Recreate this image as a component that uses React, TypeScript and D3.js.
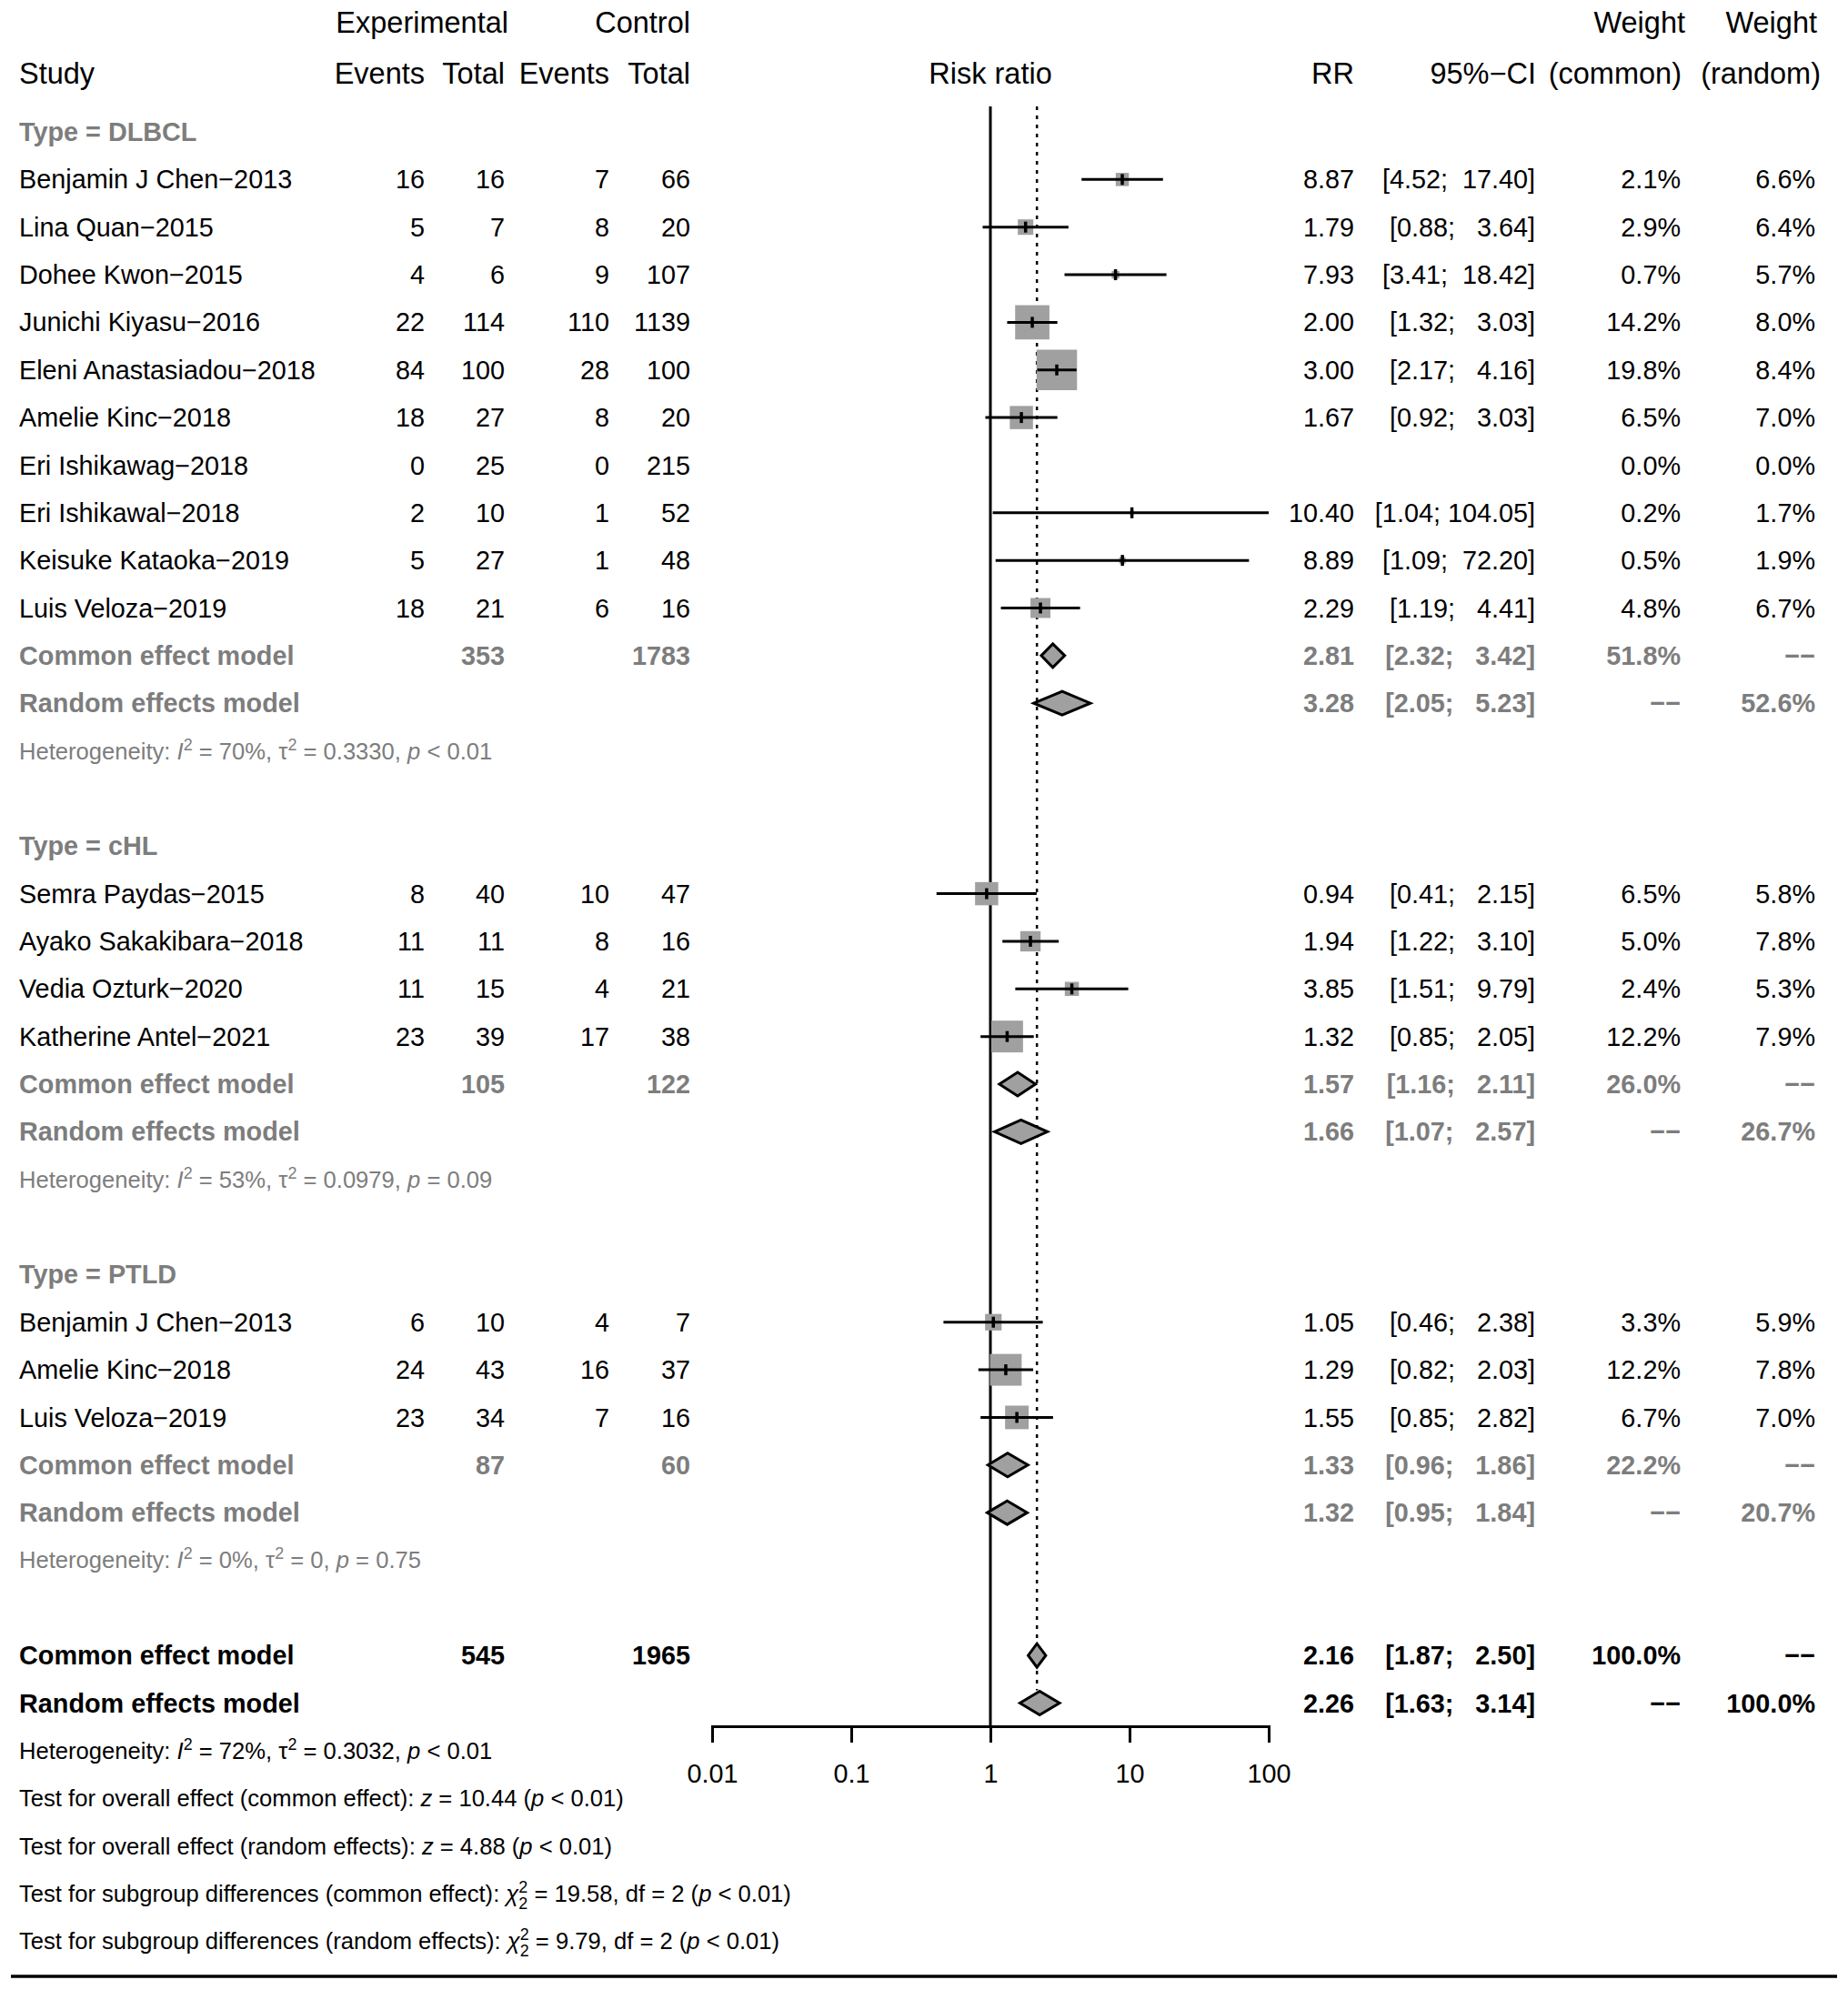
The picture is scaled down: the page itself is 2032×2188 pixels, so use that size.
import React, { useRef, useEffect } from 'react';
import * as d3 from 'd3';

// Study rows (all subgroups, in plot order)
const studyGroup = [0, 0, 0, 0, 0, 0, 0, 0, 0, 0, 1, 1, 1, 1, 2, 2, 2];
const studyNames = [
  'Benjamin J Chen−2013', 'Lina Quan−2015', 'Dohee Kwon−2015', 'Junichi Kiyasu−2016',
  'Eleni Anastasiadou−2018', 'Amelie Kinc−2018', 'Eri Ishikawag−2018', 'Eri Ishikawal−2018',
  'Keisuke Kataoka−2019', 'Luis Veloza−2019',
  'Semra Paydas−2015', 'Ayako Sakakibara−2018', 'Vedia Ozturk−2020', 'Katherine Antel−2021',
  'Benjamin J Chen−2013', 'Amelie Kinc−2018', 'Luis Veloza−2019',
];
const expEvents = [16, 5, 4, 22, 84, 18, 0, 2, 5, 18, 8, 11, 11, 23, 6, 24, 23];
const expTotal = [16, 7, 6, 114, 100, 27, 25, 10, 27, 21, 40, 11, 15, 39, 10, 43, 34];
const ctrlEvents = [7, 8, 9, 110, 28, 8, 0, 1, 1, 6, 10, 8, 4, 17, 4, 16, 7];
const ctrlTotal = [66, 20, 107, 1139, 100, 20, 215, 52, 48, 16, 47, 16, 21, 38, 7, 37, 16];
const studyRR = [8.87, 1.79, 7.93, 2.0, 3.0, 1.67, null, 10.4, 8.89, 2.29, 0.94, 1.94, 3.85, 1.32, 1.05, 1.29, 1.55];
const studyLower = [4.52, 0.88, 3.41, 1.32, 2.17, 0.92, null, 1.04, 1.09, 1.19, 0.41, 1.22, 1.51, 0.85, 0.46, 0.82, 0.85];
const studyUpper = [17.4, 3.64, 18.42, 3.03, 4.16, 3.03, null, 104.05, 72.2, 4.41, 2.15, 3.1, 9.79, 2.05, 2.38, 2.03, 2.82];
const weightCommon = [2.1, 2.9, 0.7, 14.2, 19.8, 6.5, 0.0, 0.2, 0.5, 4.8, 6.5, 5.0, 2.4, 12.2, 3.3, 12.2, 6.7];
const weightRandom = [6.6, 6.4, 5.7, 8.0, 8.4, 7.0, 0.0, 1.7, 1.9, 6.7, 5.8, 7.8, 5.3, 7.9, 5.9, 7.8, 7.0];

// Subgroup summaries
const groupNames = ['Type = DLBCL', 'Type = cHL', 'Type = PTLD'];
const groupExpTotal = [353, 105, 87];
const groupCtrlTotal = [1783, 122, 60];
const groupCommonRR = [2.81, 1.57, 1.33];
const groupCommonLower = [2.32, 1.16, 0.96];
const groupCommonUpper = [3.42, 2.11, 1.86];
const groupCommonWeight = [51.8, 26.0, 22.2];
const groupRandomRR = [3.28, 1.66, 1.32];
const groupRandomLower = [2.05, 1.07, 0.95];
const groupRandomUpper = [5.23, 2.57, 1.84];
const groupRandomWeight = [52.6, 26.7, 20.7];
const groupI2 = ['70%', '53%', '0%'];
const groupTau2 = ['0.3330', '0.0979', '0'];
const groupP = ['< 0.01', '= 0.09', '= 0.75'];

// Overall
const overallExpTotal = 545;
const overallCtrlTotal = 1965;
const overallCommon = [2.16, 1.87, 2.5];
const overallRandom = [2.26, 1.63, 3.14];
const overallHet = { i2: '72%', tau2: '0.3032', p: '< 0.01' };
const testLines = [
  { label: 'Test for overall effect (common effect): ', stat: 'z', val: ' = 10.44 (', p: ' < 0.01)' },
  { label: 'Test for overall effect (random effects): ', stat: 'z', val: ' = 4.88 (', p: ' < 0.01)' },
  { label: 'Test for subgroup differences (common effect): ', stat: 'chi', val: ' = 19.58, df = 2 (', p: ' < 0.01)' },
  { label: 'Test for subgroup differences (random effects): ', stat: 'chi', val: ' = 9.79, df = 2 (', p: ' < 0.01)' },
];
const axisTicks = [0.01, 0.1, 1, 10, 100];

const WIDTH = 2032;
const HEIGHT = 2188;
const FONT = '"Liberation Sans", Arial, Helvetica, sans-serif';
const FS = 28.8;
const FS_HEAD = 32.5;
const FS_SMALL = 25.6;
const GRAY = '#7d7d7d';
const BOX = '#a0a0a0';
const DASH = '−−';

const col = {
  study: 21, expEv: 467, expTot: 555, ctrlEv: 670, ctrlTot: 759,
  rr: 1489, ci: 1688, wc: 1848, wr: 1996,
};

// R-style padded CI text: upper bound padded to the widest value in the column
const fmtCI = (lo: number, up: number) => {
  const u = up.toFixed(2);
  return `[${lo.toFixed(2)}; ${u.padStart(6, ' ')}]`;
};
const fmtW = (w: number | null) => (w === null ? DASH : `${w.toFixed(1)}%`);

const App: React.FC = () => {
  const axisRef = useRef<SVGGElement>(null);

  const x = d3.scaleLog().domain([0.01, 100]).range([783, 1395]);
  const row = d3.scaleLinear().domain([0, 38]).range([145, 145 + 52.35 * 38]);
  const axisY = 1898;
  const boxSize = (w: number) => 10 * Math.sqrt(w);
  const clampX = (v: number) => x(Math.max(0.01, Math.min(100, v)));

  useEffect(() => {
    if (!axisRef.current) return;
    const g = d3.select(axisRef.current);
    g.selectAll('*').remove();
    g.call(
      d3.axisBottom(x)
        .tickValues(axisTicks)
        .tickFormat(d => String(d))
        .tickSize(18)
        .tickSizeOuter(18)
        .tickPadding(24)
    );
    g.select('.domain').attr('stroke', '#000').attr('stroke-width', 3);
    g.selectAll('.tick line').attr('stroke', '#000').attr('stroke-width', 3);
    g.selectAll('.tick text')
      .attr('fill', '#000')
      .style('font-size', `${FS}px`)
      .style('font-family', FONT);
  }, []);

  type Cell = { x: number; text: string; anchor?: string };
  const textRow = (k: number, cells: Cell[], color: string, bold: boolean, key: string) => (
    <g key={key} fill={color} fontWeight={bold ? 'bold' : 'normal'} fontSize={FS}>
      {cells.map((c, i) => (
        <text key={i} x={c.x} y={row(k)} dy="0.35em" textAnchor={c.anchor || 'end'} style={{ whiteSpace: 'pre' }}>
          {c.text}
        </text>
      ))}
    </g>
  );

  const hetText = (k: number, i2: string, tau2: string, p: string, color: string, key: string) => (
    <text key={key} x={col.study} y={row(k)} dy="0.35em" fontSize={FS_SMALL} fill={color} style={{ whiteSpace: 'pre' }}>
      {'Heterogeneity: '}
      <tspan fontStyle="italic">I</tspan>
      <tspan dy={-10} fontSize={FS_SMALL * 0.7}>2</tspan>
      <tspan dy={10}>{` = ${i2}, τ`}</tspan>
      <tspan dy={-10} fontSize={FS_SMALL * 0.7}>2</tspan>
      <tspan dy={10}>{` = ${tau2}, `}</tspan>
      <tspan fontStyle="italic">p</tspan>
      {` ${p}`}
    </text>
  );

  const diamond = (k: number, est: number, lo: number, up: number, key: string) => {
    const y = row(k);
    const pts = [[clampX(lo), y], [x(est), y - 13], [clampX(up), y], [x(est), y + 13]];
    return (
      <polygon key={key} points={pts.map(p => p.join(',')).join(' ')} fill={BOX} stroke="#000" strokeWidth={3} strokeLinejoin="miter" />
    );
  };

  const texts: React.ReactNode[] = [];
  const marks: React.ReactNode[] = [];

  let k = 0;
  groupNames.forEach((gName, gi) => {
    texts.push(textRow(k, [{ x: col.study, text: gName, anchor: 'start' }], GRAY, true, `gh${gi}`));
    k++;
    studyNames.forEach((name, si) => {
      if (studyGroup[si] !== gi) return;
      const rr = studyRR[si];
      const lo = studyLower[si];
      const up = studyUpper[si];
      texts.push(textRow(k, [
        { x: col.study, text: name, anchor: 'start' },
        { x: col.expEv, text: String(expEvents[si]) },
        { x: col.expTot, text: String(expTotal[si]) },
        { x: col.ctrlEv, text: String(ctrlEvents[si]) },
        { x: col.ctrlTot, text: String(ctrlTotal[si]) },
        { x: col.rr, text: rr === null ? '' : rr.toFixed(2) },
        { x: col.ci, text: rr === null || lo === null || up === null ? '' : fmtCI(lo, up) },
        { x: col.wc, text: fmtW(weightCommon[si]) },
        { x: col.wr, text: fmtW(weightRandom[si]) },
      ], '#000', false, `s${si}`));
      if (rr !== null && lo !== null && up !== null) {
        const y = row(k);
        const s = boxSize(weightCommon[si]);
        marks.push(
          <g key={`m${si}`}>
            <rect x={x(rr) - s / 2} y={y - s / 2} width={s} height={s} fill={BOX} />
            <line x1={clampX(lo)} x2={clampX(up)} y1={y} y2={y} stroke="#000" strokeWidth={3} />
            <line x1={x(rr)} x2={x(rr)} y1={y - 6} y2={y + 6} stroke="#000" strokeWidth={3.5} />
          </g>
        );
      }
      k++;
    });
    texts.push(textRow(k, [
      { x: col.study, text: 'Common effect model', anchor: 'start' },
      { x: col.expTot, text: String(groupExpTotal[gi]) },
      { x: col.ctrlTot, text: String(groupCtrlTotal[gi]) },
      { x: col.rr, text: groupCommonRR[gi].toFixed(2) },
      { x: col.ci, text: fmtCI(groupCommonLower[gi], groupCommonUpper[gi]) },
      { x: col.wc, text: fmtW(groupCommonWeight[gi]) },
      { x: col.wr, text: DASH },
    ], GRAY, true, `gc${gi}`));
    marks.push(diamond(k, groupCommonRR[gi], groupCommonLower[gi], groupCommonUpper[gi], `dc${gi}`));
    k++;
    texts.push(textRow(k, [
      { x: col.study, text: 'Random effects model', anchor: 'start' },
      { x: col.rr, text: groupRandomRR[gi].toFixed(2) },
      { x: col.ci, text: fmtCI(groupRandomLower[gi], groupRandomUpper[gi]) },
      { x: col.wc, text: DASH },
      { x: col.wr, text: fmtW(groupRandomWeight[gi]) },
    ], GRAY, true, `gr${gi}`));
    marks.push(diamond(k, groupRandomRR[gi], groupRandomLower[gi], groupRandomUpper[gi], `dr${gi}`));
    k++;
    texts.push(hetText(k, groupI2[gi], groupTau2[gi], groupP[gi], GRAY, `gt${gi}`));
    k += 2;
  });

  const kCommon = k;
  texts.push(textRow(k, [
    { x: col.study, text: 'Common effect model', anchor: 'start' },
    { x: col.expTot, text: String(overallExpTotal) },
    { x: col.ctrlTot, text: String(overallCtrlTotal) },
    { x: col.rr, text: overallCommon[0].toFixed(2) },
    { x: col.ci, text: fmtCI(overallCommon[1], overallCommon[2]) },
    { x: col.wc, text: '100.0%' },
    { x: col.wr, text: DASH },
  ], '#000', true, 'oc'));
  marks.push(diamond(k, overallCommon[0], overallCommon[1], overallCommon[2], 'doc'));
  k++;
  texts.push(textRow(k, [
    { x: col.study, text: 'Random effects model', anchor: 'start' },
    { x: col.rr, text: overallRandom[0].toFixed(2) },
    { x: col.ci, text: fmtCI(overallRandom[1], overallRandom[2]) },
    { x: col.wc, text: DASH },
    { x: col.wr, text: '100.0%' },
  ], '#000', true, 'or'));
  marks.push(diamond(k, overallRandom[0], overallRandom[1], overallRandom[2], 'dor'));
  k++;
  texts.push(hetText(k, overallHet.i2, overallHet.tau2, overallHet.p, '#000', 'oh'));
  k++;
  testLines.forEach((t, i) => {
    const small = FS_SMALL * 0.7;
    texts.push(
      <text key={`t${i}`} x={col.study} y={row(k)} dy="0.35em" fontSize={FS_SMALL} fill="#000" style={{ whiteSpace: 'pre' }}>
        {t.label}
        {t.stat === 'z' ? (
          <>
            <tspan fontStyle="italic">z</tspan>
            <tspan>{t.val}</tspan>
          </>
        ) : (
          <>
            <tspan fontStyle="italic">χ</tspan>
            <tspan dy={-10} fontSize={small}>2</tspan>
            <tspan dx={-small * 0.556} dy={18} fontSize={small}>2</tspan>
            <tspan dy={-8}>{t.val}</tspan>
          </>
        )}
        <tspan fontStyle="italic">p</tspan>
        <tspan>{t.p}</tspan>
      </text>
    );
    k++;
  });

  const topY = 117;

  return (
    <div style={{ position: 'absolute', left: 0, top: 0 }}>
      <svg width={WIDTH} height={HEIGHT} fontFamily={FONT} style={{ display: 'block', background: '#fff' }}>
        <rect width={WIDTH} height={HEIGHT} fill="#fff" />
        {/* column headers */}
        <g fontSize={FS_HEAD} fill="#000">
          <text x={559} y={25} dy="0.35em" textAnchor="end">Experimental</text>
          <text x={759} y={25} dy="0.35em" textAnchor="end">Control</text>
          <text x={1853} y={25} dy="0.35em" textAnchor="end">Weight</text>
          <text x={1998} y={25} dy="0.35em" textAnchor="end">Weight</text>
          <text x={col.study} y={81} dy="0.35em">Study</text>
          <text x={col.expEv} y={81} dy="0.35em" textAnchor="end">Events</text>
          <text x={col.expTot} y={81} dy="0.35em" textAnchor="end">Total</text>
          <text x={col.ctrlEv} y={81} dy="0.35em" textAnchor="end">Events</text>
          <text x={col.ctrlTot} y={81} dy="0.35em" textAnchor="end">Total</text>
          <text x={x(1)} y={81} dy="0.35em" textAnchor="middle">Risk ratio</text>
          <text x={col.rr} y={81} dy="0.35em" textAnchor="end">RR</text>
          <text x={1689} y={81} dy="0.35em" textAnchor="end">95%−CI</text>
          <text x={1849} y={81} dy="0.35em" textAnchor="end">(common)</text>
          <text x={2002} y={81} dy="0.35em" textAnchor="end">(random)</text>
        </g>
        {/* reference lines */}
        <line x1={x(1)} x2={x(1)} y1={topY} y2={axisY} stroke="#000" strokeWidth={3} />
        <line x1={x(overallCommon[0])} x2={x(overallCommon[0])} y1={topY} y2={row(kCommon + 1) - 14}
          stroke="#000" strokeWidth={2.5} strokeDasharray="4 6" />
        {marks}
        {texts}
        <g ref={axisRef} transform={`translate(0,${axisY})`} />
        <line x1={12} x2={2020} y1={2173} y2={2173} stroke="#000" strokeWidth={3.5} />
      </svg>
    </div>
  );
};

export default App;
